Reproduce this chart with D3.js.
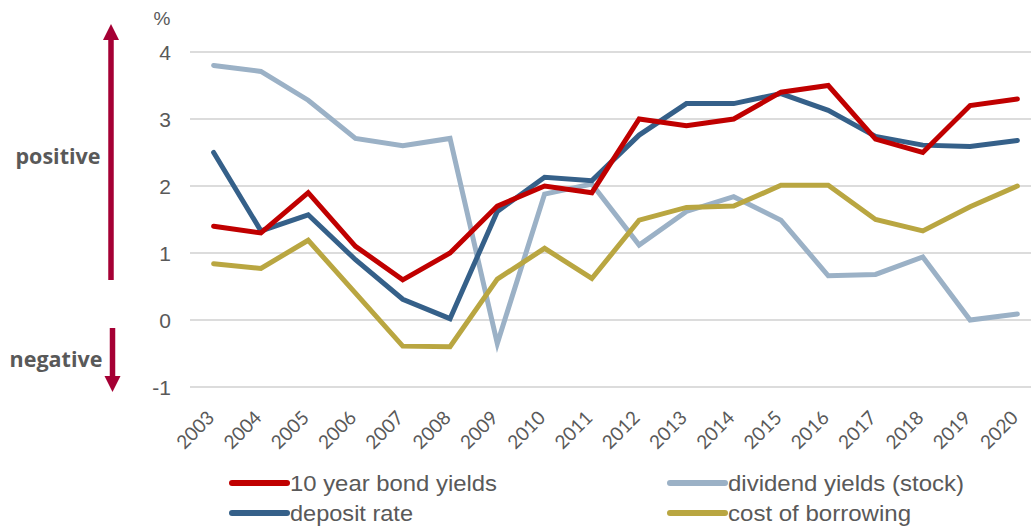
<!DOCTYPE html>
<html>
<head>
<meta charset="utf-8">
<script src="https://cdn.jsdelivr.net/npm/d3@7"></script>
<style>
  body { margin: 0; background: #fff; }
  svg { display: block; }
</style>
</head>
<body>
<div id="chart"></div>
<script>
// chart data
var years = ['2003', '2004', '2005', '2006', '2007', '2008', '2009', '2010', '2011',
             '2012', '2013', '2014', '2015', '2016', '2017', '2018', '2019', '2020'];
var bondYields =    [1.4, 1.3, 1.9, 1.1, 0.6, 1.0, 1.7, 2.0, 1.9, 3.0, 2.9, 3.0, 3.4, 3.5, 2.7, 2.5, 3.2, 3.3];
var depositRate =   [2.5, 1.33, 1.57, 0.9, 0.31, 0.02, 1.62, 2.13, 2.08, 2.76, 3.23, 3.23, 3.38, 3.13, 2.74, 2.61, 2.59, 2.68];
var dividendYields = [3.8, 3.71, 3.28, 2.71, 2.6, 2.71, -0.35, 1.88, 2.03, 1.12, 1.62, 1.84, 1.49, 0.66, 0.68, 0.94, 0.0, 0.09];
var borrowingCost = [0.84, 0.77, 1.19, 0.4, -0.39, -0.4, 0.61, 1.07, 0.62, 1.49, 1.68, 1.7, 2.01, 2.01, 1.5, 1.33, 1.69, 2.0];
var yTicks = [-1, 0, 1, 2, 3, 4];

var series = [
    { name: '10 year bond yields', values: bondYields, color: '#C00000' },
    { name: 'dividend yields (stock)', values: dividendYields, color: '#9BB1C6' },
    { name: 'deposit rate', values: depositRate, color: '#356089' },
    { name: 'cost of borrowing', values: borrowingCost, color: '#B9A641' }
];
// draw order (front-most last)
var drawOrder = [1, 3, 2, 0];

function drawChart() {
    var width = 1031, height = 526;
    var grey = '#595959';

    var svg = d3.select('#chart').append('svg')
        .attr('width', width)
        .attr('height', height);

    var x = d3.scaleBand().domain(years).range([190, 1041]);
    var y = d3.scaleLinear().domain([-1, 4]).range([387, 52]);

    // gridlines
    svg.append('g').selectAll('line')
        .data(yTicks).enter().append('line')
        .attr('x1', 190).attr('x2', width)
        .attr('y1', function(d) { return y(d); })
        .attr('y2', function(d) { return y(d); })
        .attr('stroke', '#D0D0D0')
        .attr('stroke-width', 1.5);

    // y axis labels
    var yAxis = d3.axisLeft(y).tickValues(yTicks).tickSize(0).tickPadding(0)
        .tickFormat(function(d) { return d < 0 ? '-' + Math.abs(d) : d; });
    var gy = svg.append('g').attr('transform', 'translate(171,0)').call(yAxis);
    gy.select('.domain').remove();
    gy.selectAll('text')
        .attr('fill', grey)
        .attr('font-family', '"Liberation Sans", Arial, sans-serif')
        .attr('font-size', 21)
        .attr('dy', '0.36em');

    svg.append('text')
        .attr('x', 162).attr('y', 25)
        .attr('text-anchor', 'middle')
        .attr('fill', grey)
        .attr('font-family', '"Liberation Sans", Arial, sans-serif')
        .attr('font-size', 19)
        .text('%');

    // x axis labels, rotated 45 degrees
    var xAxis = d3.axisBottom(x).tickSize(0).tickPadding(0);
    var gx = svg.append('g').attr('transform', 'translate(0,404)').call(xAxis);
    gx.select('.domain').remove();
    gx.selectAll('text')
        .attr('fill', grey)
        .attr('font-family', 'Lato, "Open Sans", sans-serif')
        .attr('font-size', 19)
        .attr('text-anchor', 'end')
        .attr('y', 0)
        .attr('dy', 0)
        .attr('transform', 'translate(2,15) rotate(-45)');

    // lines
    var line = d3.line()
        .x(function(d, i) { return x(years[i]) + x.bandwidth() / 2; })
        .y(function(d) { return y(d); });

    svg.append('g').selectAll('path')
        .data(drawOrder.map(function(i) { return series[i]; }))
        .enter().append('path')
        .attr('d', function(s) { return line(s.values); })
        .attr('fill', 'none')
        .attr('stroke', function(s) { return s.color; })
        .attr('stroke-width', 5)
        .attr('stroke-linejoin', 'miter')
        .attr('stroke-linecap', 'round');

    // legend
    var legendPos = [[232, 483], [670, 483], [232, 513], [670, 513]];
    var legendTextWidth = [207, 236, 123, 183];
    var legend = svg.append('g').selectAll('g')
        .data(series).enter().append('g')
        .attr('transform', function(s, i) {
            return 'translate(' + legendPos[i][0] + ',' + legendPos[i][1] + ')';
        });
    legend.append('line')
        .attr('x1', 0).attr('x2', 55).attr('y1', 0).attr('y2', 0)
        .attr('stroke', function(s) { return s.color; })
        .attr('stroke-width', 6)
        .attr('stroke-linecap', 'round');
    legend.append('text')
        .attr('x', 58).attr('y', 0).attr('dy', '0.36em')
        .attr('fill', grey)
        .attr('font-family', '"Liberation Sans", Arial, sans-serif')
        .attr('font-size', 22)
        .attr('textLength', function(s, i) { return legendTextWidth[i]; })
        .attr('lengthAdjust', 'spacingAndGlyphs')
        .text(function(s) { return s.name; });

    // positive / negative arrows
    var arrowColor = '#A50034';
    svg.append('line')
        .attr('x1', 111).attr('x2', 111).attr('y1', 280).attr('y2', 38)
        .attr('stroke', arrowColor).attr('stroke-width', 5.5);
    svg.append('path')
        .attr('d', 'M111,24 L119,40 L103,40 Z')
        .attr('fill', arrowColor);
    svg.append('line')
        .attr('x1', 112.5).attr('x2', 112.5).attr('y1', 328).attr('y2', 378)
        .attr('stroke', arrowColor).attr('stroke-width', 5.5);
    svg.append('path')
        .attr('d', 'M112.5,392 L120.5,376 L104.5,376 Z')
        .attr('fill', arrowColor);

    svg.append('text')
        .attr('x', 58).attr('y', 164)
        .attr('text-anchor', 'middle')
        .attr('fill', grey)
        .attr('font-family', '"Open Sans", "Noto Sans", sans-serif')
        .attr('font-weight', 'bold')
        .attr('font-size', 21.5)
        .text('positive');
    svg.append('text')
        .attr('x', 56).attr('y', 367)
        .attr('text-anchor', 'middle')
        .attr('fill', grey)
        .attr('font-family', '"Open Sans", "Noto Sans", sans-serif')
        .attr('font-weight', 'bold')
        .attr('font-size', 21.5)
        .text('negative');
}

document.addEventListener('DOMContentLoaded', drawChart);
</script>
</body>
</html>
